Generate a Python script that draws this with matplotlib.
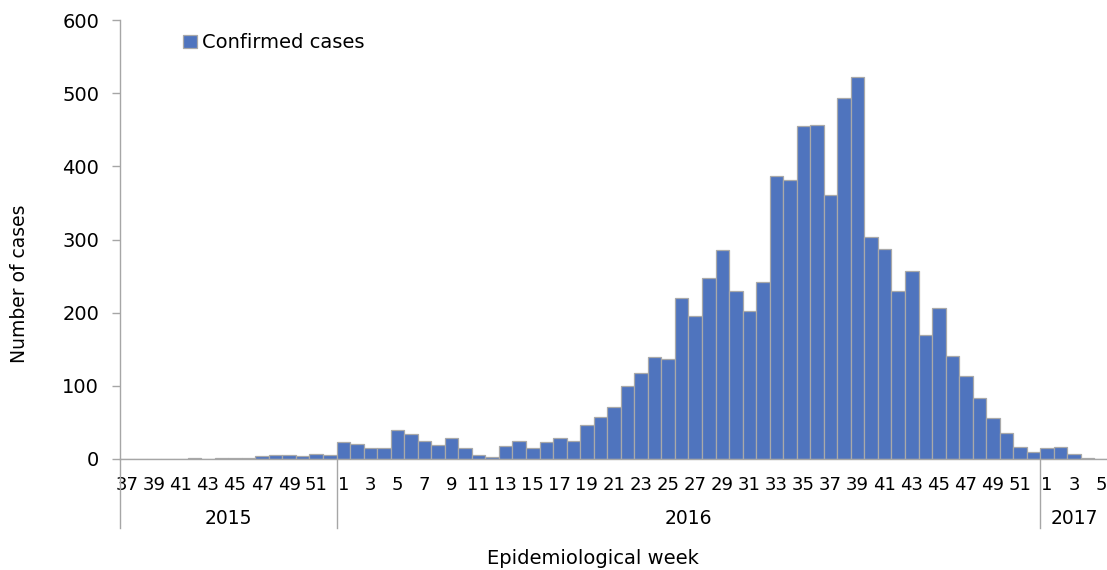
import numpy as np
import matplotlib.pyplot as plt
import matplotlib.transforms as mtransforms

# Weekly confirmed cases, 2015 week 37 to 2017 week 5
weeks_2015 = list(range(37, 53))
weeks_2016 = list(range(1, 53))
weeks_2017 = list(range(1, 6))

cases_2015 = [0, 0, 0, 0, 0, 1, 0, 1, 2, 2, 4, 6, 6, 4, 7, 6]
cases_2016 = [23, 20, 15, 15, 40, 34, 25, 19, 29, 15,
              6, 3, 18, 24, 15, 23, 29, 25, 47, 57,
              71, 100, 117, 140, 136, 220, 195, 248, 285, 230,
              202, 242, 387, 381, 455, 457, 361, 494, 522, 303,
              287, 230, 257, 170, 206, 141, 113, 84, 56, 36,
              17, 10]
cases_2017 = [15, 16, 7, 1, 0]

years = ['2015', '2016', '2017']

weeks = weeks_2015 + weeks_2016 + weeks_2017
cases = cases_2015 + cases_2016 + cases_2017
x = np.arange(len(weeks))

bar_color = '#4F74BE'
axis_grey = '#A6A6A6'

fig = plt.figure(figsize=(11.07, 5.70), dpi=100)
ax = fig.add_axes([120 / 1107, 1 - 459 / 570, 988 / 1107, 439 / 570])

ax.bar(x, cases, width=1.0, color=bar_color, edgecolor='#A9A9A9',
       linewidth=0.9, label='Confirmed cases')

ax.set_xlim(-0.5, len(weeks) - 0.5)
ax.set_ylim(0, 600)
ax.set_yticks(range(0, 601, 100))
ax.tick_params(axis='y', direction='out', length=6, width=1, color=axis_grey,
               pad=9, labelsize=14)

ax.set_xticks(x[::2])
ax.set_xticklabels([str(w) for w in weeks[::2]])
ax.tick_params(axis='x', length=0, pad=12, labelsize=13)

for side in ['top', 'right']:
    ax.spines[side].set_visible(False)
for side in ['left', 'bottom']:
    ax.spines[side].set_color(axis_grey)
    ax.spines[side].set_linewidth(1)

# year separators below the axis
trans = mtransforms.blended_transform_factory(ax.transData, ax.transAxes)
low = -(528 - 459) / 439
bounds = [-0.5, len(weeks_2015) - 0.5,
          len(weeks_2015) + len(weeks_2016) - 0.5, len(weeks) - 0.5]
for b in bounds:
    ax.plot([b, b], [0, low], color=axis_grey, lw=1, transform=trans,
            clip_on=False)
for i, yr in enumerate(years):
    mid = (bounds[i] + bounds[i + 1]) / 2
    ax.text(mid, -(518 - 459) / 439, yr, transform=trans, ha='center',
            va='center', fontsize=13.5)

fig.text(593 / 1107, 1 - 558 / 570, 'Epidemiological week', ha='center',
         va='center', fontsize=14)
fig.text(20 / 1107, 1 - 284 / 570, 'Number of cases', ha='center',
         va='center', rotation=90, fontsize=13.5)

ax.legend(loc='upper left', bbox_to_anchor=(0.064, 0.97), frameon=False,
          fontsize=14, handlelength=0.7, handleheight=0.7,
          handletextpad=0.25, borderpad=0, borderaxespad=0)

fig.savefig('out.png', dpi=100)
